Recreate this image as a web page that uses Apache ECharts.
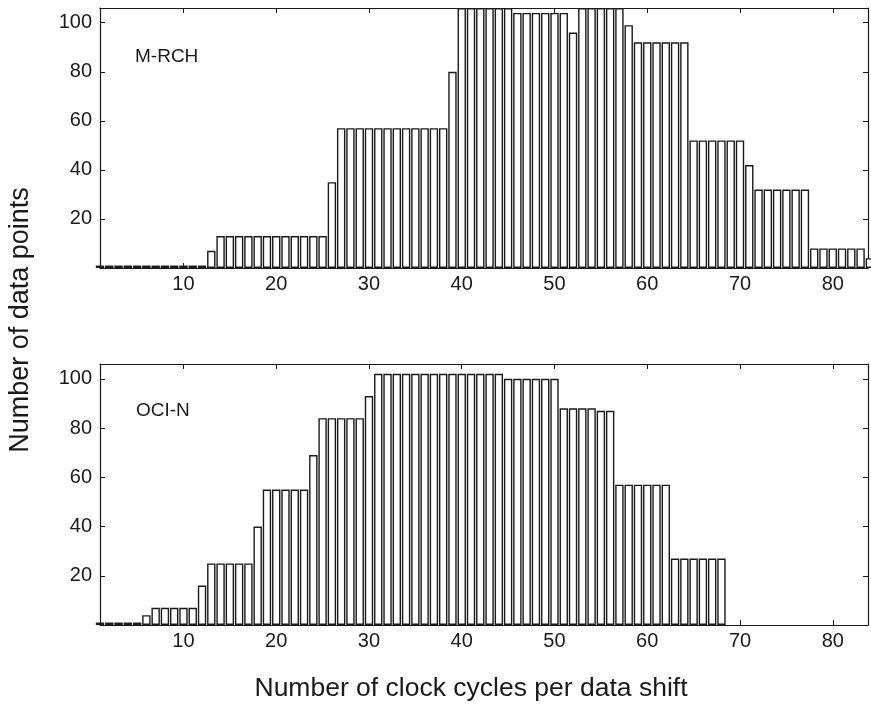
<!DOCTYPE html>
<html>
<head>
<meta charset="utf-8">
<script src="https://cdn.jsdelivr.net/npm/echarts@6/dist/echarts.min.js"></script>
<style>
  html, body { margin: 0; padding: 0; background: #fff; }
  #chart { width: 871px; height: 705px; }
</style>
</head>
<body>
<div id="chart"></div>
<script>
// bins = clock cycles per data shift (1, 2, 3 ...), counts
const mrchCounts = [
  1, 1, 1, 1, 1, 1, 1, 1, 1, 1, 1, 1,
  7,
  13, 13, 13, 13, 13, 13, 13, 13, 13, 13, 13, 13,
  35,
  57, 57, 57, 57, 57, 57, 57, 57, 57, 57, 57, 57,
  80,
  106, 106, 106, 106, 106, 106,
  104, 104, 104, 104, 104, 104,
  96,
  106, 106, 106, 106, 106,
  99,
  92, 92, 92, 92, 92, 92,
  52, 52, 52, 52, 52, 52,
  42,
  32, 32, 32, 32, 32, 32,
  8, 8, 8, 8, 8, 8,
  4
];
const ociCounts = [
  1, 1, 1, 1, 1,
  4,
  7, 7, 7, 7, 7,
  16,
  25, 25, 25, 25, 25,
  40,
  55, 55, 55, 55, 55,
  69,
  84, 84, 84, 84, 84,
  93,
  102, 102, 102, 102, 102, 102, 102, 102, 102, 102, 102, 102, 102, 102,
  100, 100, 100, 100, 100, 100,
  88, 88, 88, 88,
  87, 87,
  57, 57, 57, 57, 57, 57,
  27, 27, 27, 27, 27, 27
];
const xTicks = [10, 20, 30, 40, 50, 60, 70, 80];
const yTicks = [20, 40, 60, 80, 100];
const panelNames = ["M-RCH", "OCI-N"];

const font = "'Liberation Sans', Arial, Helvetica, sans-serif";
const ink = "#1a1a1a";

function toPairs(counts) {
    return counts.map((v, i) => [i + 1, v]);
}

function xAxisFor(grid, pos) {
    return {
        type: "value",
        gridIndex: grid,
        position: pos,
        min: 1,
        max: 83.8,
        axisLine: { show: true, onZero: false, lineStyle: { color: ink, width: 1.2 } },
        axisTick: { show: true, inside: true, length: 5, customValues: xTicks, lineStyle: { color: ink } },
        axisLabel: {
            show: pos === "bottom",
            customValues: xTicks,
            margin: 6,
            color: ink,
            fontSize: 20,
            fontFamily: font
        },
        splitLine: { show: false }
    };
}

function yAxisFor(grid, pos) {
    return {
        type: "value",
        gridIndex: grid,
        position: pos,
        min: 0,
        max: 106,
        axisLine: { show: true, onZero: false, lineStyle: { color: ink, width: 1.2 } },
        axisTick: { show: true, inside: true, length: 5, customValues: yTicks, lineStyle: { color: ink } },
        axisLabel: {
            show: pos === "left",
            customValues: yTicks,
            margin: 8,
            color: ink,
            fontSize: 20,
            fontFamily: font
        },
        splitLine: { show: false }
    };
}

function barSeries(counts, axisIdx) {
    return {
        type: "bar",
        xAxisIndex: axisIdx,
        yAxisIndex: axisIdx,
        data: toPairs(counts),
        barWidth: 8.4,
        clip: true,
        silent: true,
        itemStyle: { color: "#fff", borderColor: ink, borderWidth: 1.4 }
    };
}

let chart = echarts.init(document.getElementById("chart"), null, { renderer: "canvas" });
let option = {
    backgroundColor: "#fff",
    animation: false,
    grid: [
        { left: 100, top: 8, width: 768, height: 260, outerBoundsMode: "none" },
        { left: 100, top: 364, width: 768, height: 261, outerBoundsMode: "none" }
    ],
    xAxis: [
        xAxisFor(0, "bottom"),
        xAxisFor(1, "bottom"),
        xAxisFor(0, "top"),
        xAxisFor(1, "top")
    ],
    yAxis: [
        yAxisFor(0, "left"),
        yAxisFor(1, "left"),
        yAxisFor(0, "right"),
        yAxisFor(1, "right")
    ],
    series: [
        barSeries(mrchCounts, 0),
        barSeries(ociCounts, 1)
    ],
    graphic: [
        {
            type: "text", left: 135, top: 47,
            style: { text: panelNames[0], fill: ink, fontSize: 19, fontFamily: font }
        },
        {
            type: "text", left: 136, top: 401,
            style: { text: panelNames[1], fill: ink, fontSize: 19, fontFamily: font }
        },
        {
            type: "text", x: 21, y: 320, rotation: Math.PI / 2,
            style: {
                text: "Number of data points", fill: ink, fontSize: 27, fontFamily: font,
                align: "center", verticalAlign: "middle"
            }
        },
        {
            type: "text", x: 471, y: 689,
            style: {
                text: "Number of clock cycles per data shift", fill: ink, fontSize: 26.5, fontFamily: font,
                align: "center", verticalAlign: "middle"
            }
        }
    ]
};
chart.setOption(option);
</script>
</body>
</html>
